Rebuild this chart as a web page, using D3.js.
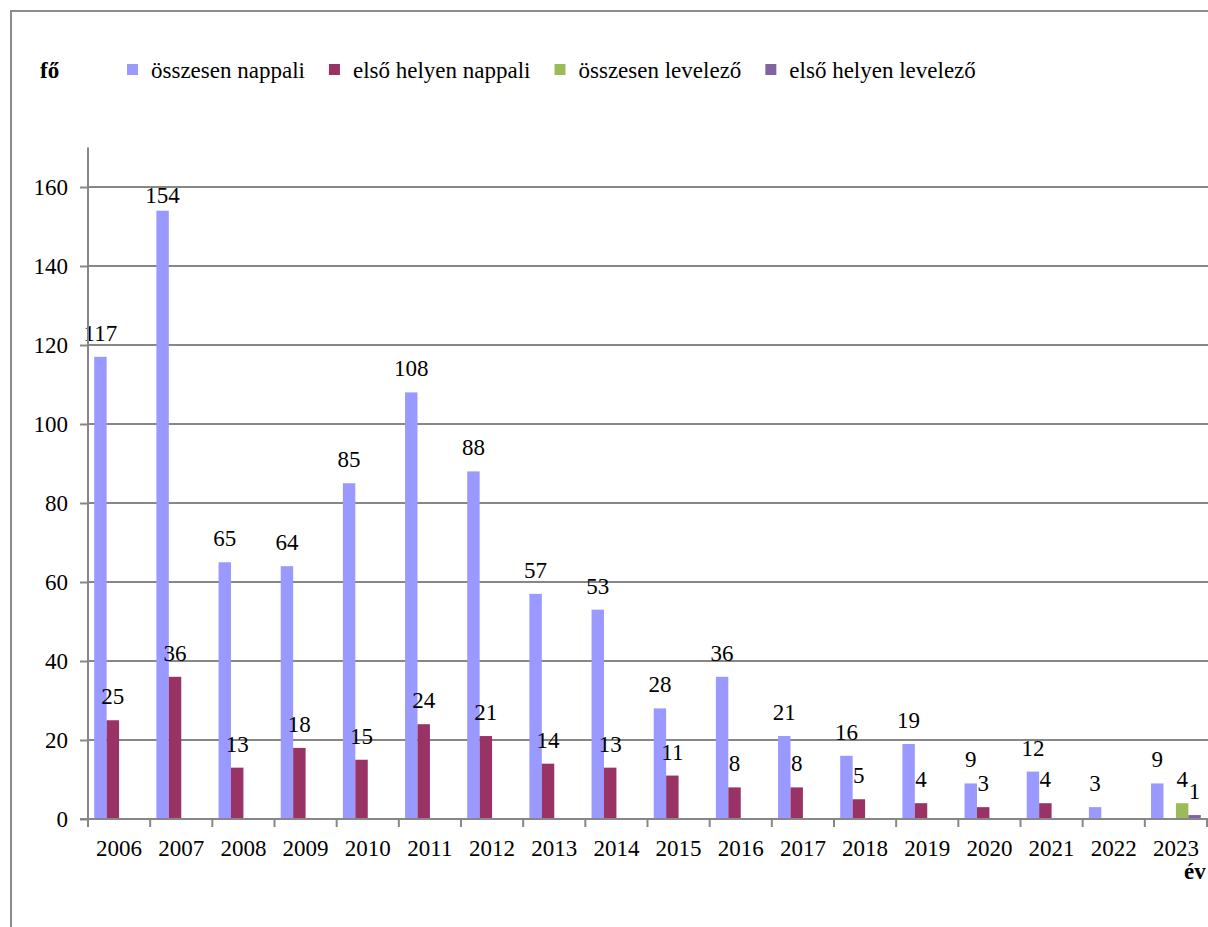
<!DOCTYPE html>
<html>
<head>
<meta charset="utf-8">
<script src="https://cdn.jsdelivr.net/npm/d3@7"></script>
<style>
  body { margin: 0; background: #fff; }
  svg text { font-family: "Liberation Serif", "DejaVu Serif", "Times New Roman", serif; fill: #000; }
</style>
</head>
<body>
<script>
let years = ['2006', '2007', '2008', '2009', '2010', '2011', '2012', '2013', '2014',
  '2015', '2016', '2017', '2018', '2019', '2020', '2021', '2022', '2023'];
let osszesenNappali = [117, 154, 65, 64, 85, 108, 88, 57, 53, 28, 36, 21, 16, 19, 9, 12, 3, 9];
let elsoNappali = [25, 36, 13, 18, 15, 24, 21, 14, 13, 11, 8, 8, 5, 4, 3, 4, null, null];
let osszesenLevelezo = [null, null, null, null, null, null, null, null, null,
  null, null, null, null, null, null, null, null, 4];
let elsoLevelezo = [null, null, null, null, null, null, null, null, null,
  null, null, null, null, null, null, null, null, 1];
let seriesNames = ['összesen nappali', 'első helyen nappali', 'összesen levelező', 'első helyen levelező'];
let yTicks = [0, 20, 40, 60, 80, 100, 120, 140, 160];

let colors = ['#9999ff', '#993366', '#9bbb59', '#8064a2'];
let allSeries = [osszesenNappali, elsoNappali, osszesenLevelezo, elsoLevelezo];

let serif = '"Liberation Serif", "DejaVu Serif", "Times New Roman", serif';

let svg = d3.select('body')
  .append('svg')
  .attr('width', 1208)
  .attr('height', 927)
  .attr('font-family', serif);

let fontSize = 23;
let gridColor = '#878787';

let x = d3.scaleBand()
  .domain(years)
  .range([88, 1207]);

let xInner = d3.scaleBand()
  .domain(seriesNames)
  .range([0, x.bandwidth()])
  .paddingInner(0)
  .paddingOuter(0.5);

let y = d3.scaleLinear()
  .domain([0, 170])
  .range([819, 147.5]);

drawFrame();
drawGrid();
drawBars();
drawAxes();
drawLegend();

function drawFrame() {
  svg.append('rect')
    .attr('x', 11)
    .attr('y', 11)
    .attr('width', 1300)
    .attr('height', 1000)
    .attr('fill', 'none')
    .attr('stroke', '#8c8c8c')
    .attr('stroke-width', 2);
}

function drawGrid() {
  svg.append('g')
    .selectAll('line')
    .data(yTicks.filter(d => d > 0))
    .join('line')
    .attr('x1', 88)
    .attr('x2', 1208)
    .attr('y1', d => y(d))
    .attr('y2', d => y(d))
    .attr('stroke', gridColor)
    .attr('stroke-width', 2);
}

function drawBars() {
  allSeries.forEach((values, s) => {
    let pts = years.map((yr, i) => ({ yr: yr, v: values[i] }))
      .filter(d => d.v !== null);

    svg.append('g')
      .selectAll('rect')
      .data(pts)
      .join('rect')
      .attr('x', d => x(d.yr) + xInner(seriesNames[s]))
      .attr('width', xInner.bandwidth())
      .attr('y', d => y(d.v))
      .attr('height', d => y(0) - y(d.v))
      .attr('fill', colors[s]);

    // value labels (154 sits lower in the original, kept under the 160 line)
    svg.append('g')
      .selectAll('text')
      .data(pts)
      .join('text')
      .attr('x', d => x(d.yr) + xInner(seriesNames[s]) + xInner.bandwidth() / 2)
      .attr('y', d => Math.max(y(d.v) - 16, 203))
      .attr('text-anchor', 'middle')
      .attr('font-family', serif)
      .attr('font-size', fontSize)
      .text(d => d.v);
  });
}

function drawAxes() {
  let yAxis = d3.axisLeft(y)
    .tickValues(yTicks)
    .tickSize(8)
    .tickPadding(12);

  let gy = svg.append('g')
    .attr('transform', 'translate(88,0)')
    .call(yAxis)
    .attr('font-family', serif);
  gy.select('.domain').attr('stroke', gridColor).attr('stroke-width', 2)
    .attr('d', 'M0,' + y(170) + 'V' + y(0));
  gy.selectAll('.tick line').attr('stroke', gridColor).attr('stroke-width', 2);
  gy.selectAll('.tick text')
    .attr('font-size', fontSize)
    .attr('font-family', serif)
    .attr('fill', '#000');

  svg.append('line')
    .attr('x1', 80)
    .attr('x2', 1208)
    .attr('y1', y(0))
    .attr('y2', y(0))
    .attr('stroke', gridColor)
    .attr('stroke-width', 2);

  // tick marks between the years
  let edges = years.map(d => x(d)).concat([x(years[years.length - 1]) + x.bandwidth()]);
  svg.append('g')
    .selectAll('line')
    .data(edges)
    .join('line')
    .attr('x1', d => d)
    .attr('x2', d => d)
    .attr('y1', y(0))
    .attr('y2', y(0) + 8)
    .attr('stroke', gridColor)
    .attr('stroke-width', 2);

  svg.append('g')
    .selectAll('text')
    .data(years)
    .join('text')
    .attr('x', d => x(d) + x.bandwidth() / 2)
    .attr('y', 856)
    .attr('text-anchor', 'middle')
    .attr('font-family', serif)
    .attr('font-size', fontSize)
    .text(d => d);

  svg.append('text')
    .attr('x', 40)
    .attr('y', 78)
    .attr('font-family', serif)
    .attr('font-size', fontSize)
    .attr('font-weight', 'bold')
    .text('fő');

  svg.append('text')
    .attr('x', 1184)
    .attr('y', 879)
    .attr('font-family', serif)
    .attr('font-size', fontSize)
    .attr('font-weight', 'bold')
    .text('év');
}

function drawLegend() {
  let lx = 127;
  seriesNames.forEach((name, i) => {
    svg.append('rect')
      .attr('x', lx)
      .attr('y', 64)
      .attr('width', 11)
      .attr('height', 11)
      .attr('fill', colors[i]);

    let t = svg.append('text')
      .attr('x', lx + 11 + 13)
      .attr('y', 78)
      .attr('font-family', serif)
      .attr('font-size', fontSize)
      .text(name);

    lx = lx + 11 + 13 + t.node().getComputedTextLength() + 24;
  });
}
</script>
</body>
</html>
